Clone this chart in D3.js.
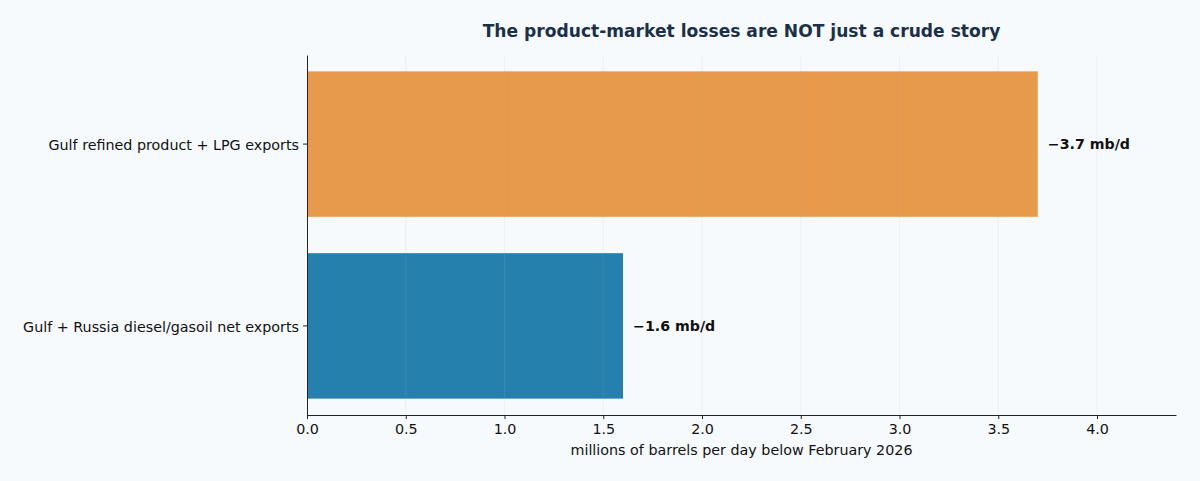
<!DOCTYPE html>
<html>
<head>
<meta charset="utf-8">
<script src="https://cdn.jsdelivr.net/npm/d3@7"></script>
<style>
  html, body { margin: 0; padding: 0; background: #f7fafd; }
  svg { display: block; font-family: "DejaVu Sans", sans-serif; }
</style>
</head>
<body>
<div id="chart"></div>
<script>
const TITLE = "The product-market losses are NOT just a crude story";
const X_LABEL = "millions of barrels per day below February 2026";

/* categories top to bottom */
const categories = ["Gulf refined product + LPG exports", "Gulf + Russia diesel/gasoil net exports"];
const values = [3.7, 1.6];
const valueLabels = ["\u22123.7 mb/d", "\u22121.6 mb/d"];
const barColors = ["#e79a4b", "#2680ad"];
const xTicks = [0, 0.5, 1, 1.5, 2, 2.5, 3, 3.5, 4];

const W = 1200, H = 481;
const margin = { top: 55, right: 24, bottom: 66, left: 307 };
const width = W - margin.left - margin.right;
const height = H - margin.top - margin.bottom;
const FS = 14.3; // base font size

const svg = d3.select("#chart")
  .append("svg")
  .attr("width", W)
  .attr("height", H);

svg.append("rect").attr("width", W).attr("height", H).attr("fill", "#f7fafd");

const g = svg.append("g")
  .attr("transform", `translate(${margin.left},${margin.top})`);

const x = d3.scaleLinear().domain([0, 4.4]).range([0, width]);
const y = d3.scaleBand()
  .domain(categories)
  .range([0, height])
  .paddingInner(0.2)
  .paddingOuter(0.09);

// bars
g.selectAll("rect.bar")
  .data(categories)
  .enter()
  .append("rect")
  .attr("class", "bar")
  .attr("x", x(0))
  .attr("y", d => y(d))
  .attr("width", (d, i) => x(values[i]) - x(0))
  .attr("height", y.bandwidth())
  .attr("fill", (d, i) => barColors[i]);

// faint vertical grid drawn over bars
g.selectAll("line.grid")
  .data(xTicks.slice(1))
  .enter()
  .append("line")
  .attr("class", "grid")
  .attr("x1", d => x(d))
  .attr("x2", d => x(d))
  .attr("y1", 0)
  .attr("y2", height)
  .attr("stroke", "#b0b8c0")
  .attr("stroke-opacity", 0.18)
  .attr("stroke-width", 0.8);

// value labels
g.selectAll("text.val")
  .data(categories)
  .enter()
  .append("text")
  .attr("class", "val")
  .attr("x", (d, i) => x(values[i]) + 10)
  .attr("y", d => y(d) + y.bandwidth() / 2)
  .attr("dy", "0.35em")
  .attr("font-size", 14.2)
  .attr("font-weight", "bold")
  .attr("fill", "#111")
  .text((d, i) => valueLabels[i]);

// x axis
const xAxis = g.append("g")
  .attr("transform", `translate(0,${height})`)
  .call(d3.axisBottom(x).tickValues(xTicks).tickFormat(d3.format(".1f")).tickSize(4).tickSizeOuter(0));
xAxis.select(".domain").attr("stroke", "#222").attr("stroke-width", 1);
xAxis.selectAll(".tick line").attr("stroke", "#222");
xAxis.selectAll(".tick text")
  .attr("font-size", FS)
  .attr("font-family", "DejaVu Sans, sans-serif")
  .attr("fill", "#111")
  .attr("dy", "0.85em");

// y axis
const yAxis = g.append("g")
  .call(d3.axisLeft(y).tickSize(4).tickSizeOuter(0));
yAxis.select(".domain").attr("stroke", "#222").attr("stroke-width", 1);
yAxis.selectAll(".tick line").attr("stroke", "#222");
yAxis.selectAll(".tick text")
  .attr("font-size", FS)
  .attr("font-family", "DejaVu Sans, sans-serif")
  .attr("fill", "#111")
  .attr("x", -8)
  .attr("dy", "0.42em");

// x label
g.append("text")
  .attr("x", width / 2)
  .attr("y", height + 40)
  .attr("text-anchor", "middle")
  .attr("font-size", FS)
  .attr("fill", "#111")
  .text(X_LABEL);

// title
svg.append("text")
  .attr("x", margin.left + width / 2)
  .attr("y", 37)
  .attr("text-anchor", "middle")
  .attr("font-size", 17.1)
  .attr("font-weight", "bold")
  .attr("fill", "#1b3048")
  .text(TITLE);
</script>
</body>
</html>
